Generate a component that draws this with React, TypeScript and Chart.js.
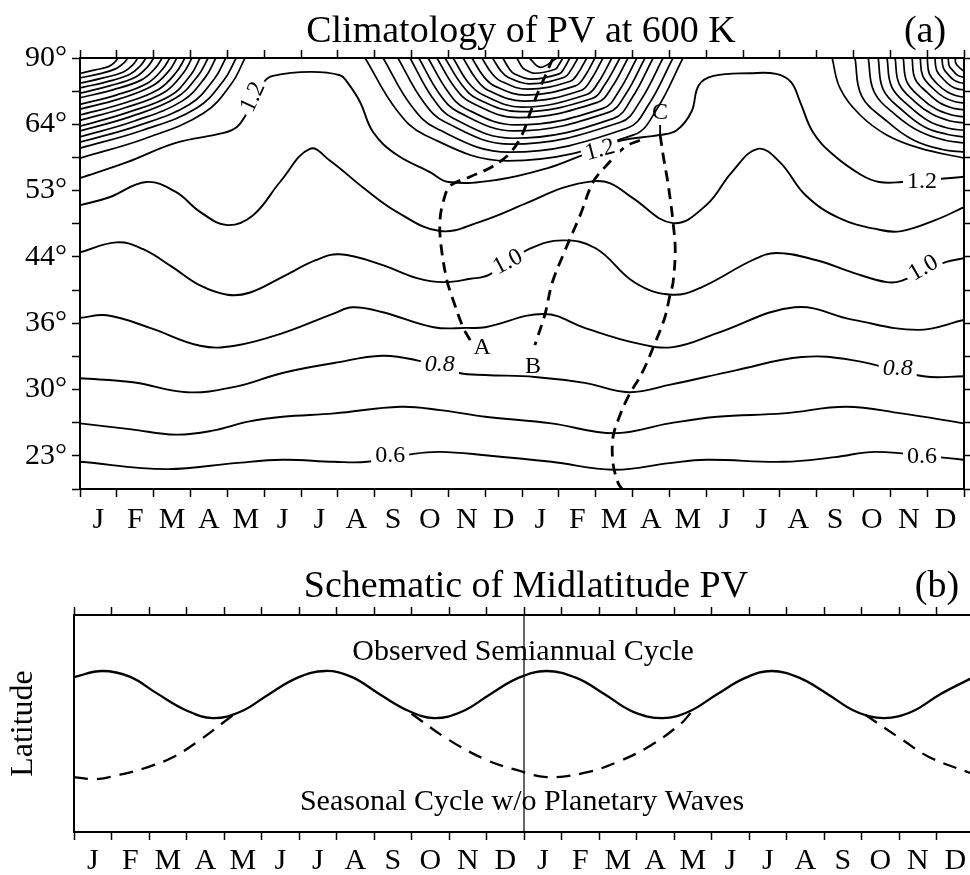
import React, { useEffect, useRef } from 'react';
import { Chart, registerables } from 'chart.js';
Chart.register(...registerables);

const FONT = '"Liberation Serif", "DejaVu Serif", serif';
const MONTHS = ['J', 'F', 'M', 'A', 'M', 'J', 'J', 'A', 'S', 'O', 'N', 'D'];
const LAT_LABELS: Record<number, string> = { 40: '23°', 50: '30°', 60: '36°', 70: '44°', 80: '53°', 90: '64°', 100: '90°' };
const X_TICKS = Array.from({ length: 49 }, (_, i) => i / 2);
const Y_TICKS_A = [0.35, 0.4, 0.45, 0.5, 0.55, 0.6, 0.65, 0.7, 0.75, 0.8, 0.85, 0.9, 0.95, 1.0];

type P = [number, number][];

// ---- Panel (a): contours of PV, x = month (0..24), y = sin(latitude) ----
const PV_06: P = [[0, .391], [2.35, .380], [4.2, .389], [5.5, .394], [6.9, .391], [7.8, .391], [9.05, .403], [9.77, .406], [11.0, .401], [12.8, .391], [14.5, .379], [16.0, .389], [17.0, .394], [19.1, .391], [20.5, .398], [21.6, .406], [23.5, .397], [24, .394]];
const PV_07: P = [[0, .449], [1.4, .440], [2.6, .432], [3.6, .438], [4.6, .452], [5.5, .459], [6.9, .464], [8.7, .474], [9.77, .469], [11.0, .459], [12.8, .449], [14.5, .434], [16.0, .449], [17.3, .459], [19.1, .464], [20.8, .474], [22.3, .464], [24, .449]];
const PV_08: P = [[0, .517], [1.44, .511], [2.9, .496], [4.2, .504], [5.5, .525], [6.9, .540], [8.2, .551], [9.15, .544], [10.3, .525], [11.0, .522], [12.35, .519], [13.7, .510], [14.9, .496], [16.0, .507], [17.8, .529], [19.6, .549], [21.0, .544], [22.9, .520], [24, .520]];
const PV_09: P = [[0, .608], [0.73, .612], [1.9, .593], [3.26, .566], [4.2, .566], [5.5, .585], [6.9, .615], [7.4, .624], [8.2, .617], [9.6, .594], [10.5, .593], [11.0, .594], [12.6, .614], [13.7, .593], [15.1, .570], [16.1, .564], [17.3, .585], [19.4, .624], [21.0, .605], [22.75, .590], [24, .605]];
const PV_10: P = [[0, .707], [1.0, .722], [1.7, .712], [2.5, .685], [3.26, .657], [4.0, .643], [4.6, .646], [5.5, .670], [6.4, .695], [7.06, .704], [8.2, .688], [9.15, .668], [9.86, .662], [10.6, .667], [11.1, .673], [12.2, .712], [13.1, .725], [14.0, .713], [15.07, .661], [16.07, .643], [16.9, .655], [18.25, .695], [18.9, .706], [20.0, .695], [21.0, .676], [21.9, .662], [22.3, .664], [23.5, .692], [24, .698]];
const PV_11: P = [[0, .778], [0.8, .790], [1.8, .813], [2.6, .798], [3.26, .768], [4.0, .748], [4.7, .763], [5.43, .813], [6.24, .863], [6.79, .845], [7.7, .804], [8.6, .768], [9.77, .739], [10.86, .753], [12.2, .783], [13.1, .804], [13.9, .814], [14.4, .811], [15.0, .789], [16.1, .751], [17.0, .778], [17.7, .828], [18.4, .863], [19.0, .843], [19.7, .793], [20.6, .759], [21.7, .741], [22.3, .739], [23.2, .755], [24, .775]];
const PV_12: P = [[0, .819], [1.28, .843], [2.6, .872], [3.9, .887], [4.26, .896], [4.5, .914], [5.0, .964], [5.24, .973], [6.25, .979], [7.06, .974], [7.25, .964], [7.6, .934], [7.96, .888], [8.6, .854], [9.5, .828], [10.0, .813], [11.3, .816], [12.7, .834], [13.66, .854], [14.66, .875], [15.75, .884], [16.2, .891], [16.6, .919], [16.8, .959], [17.2, .973], [18.2, .977], [18.9, .976], [19.3, .964], [19.55, .934], [19.9, .888], [20.45, .854], [21.2, .824], [21.7, .813], [22.3, .813], [24, .821]];

// polar contours (1.3, 1.4, ...) : January fan at the left edge
const POLAR_LEFT: P[] = [
  [[0, .849], [1.79, .879], [3.36, .917], [4.12, .962], [4.48, 1]],
  [[0, .864], [1.70, .891], [3.18, .925], [3.90, .966], [4.24, 1]],
  [[0, .873], [1.58, .898], [2.97, .930], [3.64, .968], [3.96, 1]],
  [[0, .881], [1.48, .905], [2.77, .935], [3.39, .970], [3.69, 1]],
  [[0, .890], [1.39, .912], [2.61, .940], [3.20, .973], [3.48, 1]],
  [[0, .897], [1.30, .918], [2.45, .943], [3.0, .974], [3.26, 1]],
  [[0, .906], [1.22, .925], [2.28, .948], [2.80, .977], [3.04, 1]],
  [[0, .914], [1.14, .931], [2.14, .953], [2.62, .979], [2.85, 1]],
  [[0, .923], [1.05, .938], [1.97, .958], [2.42, .981], [2.63, 1]],
  [[0, .930], [0.98, .944], [1.83, .962], [2.24, .983], [2.44, 1]],
  [[0, .940], [0.89, .952], [1.67, .967], [2.05, .985], [2.23, 1]],
  [[0, .947], [0.80, .958], [1.50, .971], [1.84, .987], [2.0, 1]],
  [[0, .955], [0.72, .964], [1.34, .975], [1.65, .989], [1.79, 1]],
  [[0, .962], [0.63, .970], [1.18, .979], [1.44, .990], [1.57, 1]],
  [[0, .970], [0.52, .976], [0.98, .984], [1.20, .993], [1.3, 1]],
  [[0, .977], [0.41, .982], [0.77, .987], [0.95, .994], [1.03, 1]],
];
// polar contours: winter U in the middle
const POLAR_MID: P[] = [
  [[7.74, 1], [8.59, .922], [9.36, .884], [11.6, .845], [15.03, .884], [15.65, .922], [16.37, 1]],
  [[8.23, 1], [8.98, .929], [9.67, .894], [11.65, .858], [14.85, .894], [15.43, .929], [16.1, 1]],
  [[8.63, 1], [9.31, .935], [9.92, .903], [11.7, .870], [14.67, .903], [15.21, .935], [15.83, 1]],
  [[8.96, 1], [9.57, .940], [10.13, .909], [11.75, .879], [14.49, .909], [14.99, .940], [15.56, 1]],
  [[9.2, 1], [9.77, .945], [10.29, .918], [11.8, .890], [14.35, .918], [14.81, .945], [15.34, 1]],
  [[9.45, 1], [9.98, .950], [10.46, .924], [11.85, .899], [14.2, .924], [14.63, .950], [15.12, 1]],
  [[9.69, 1], [10.18, .955], [10.62, .933], [11.9, .910], [14.05, .933], [14.43, .955], [14.88, 1]],
  [[9.91, 1], [10.36, .960], [10.77, .939], [11.95, .919], [13.9, .939], [14.25, .960], [14.66, 1]],
  [[10.13, 1], [10.54, .963], [10.92, .945], [12.0, .926], [13.76, .945], [14.07, .963], [14.44, 1]],
  [[10.4, 1], [10.76, .968], [11.09, .951], [12.05, .935], [13.6, .951], [13.88, .968], [14.2, 1]],
  [[10.64, 1], [10.96, .972], [11.25, .958], [12.1, .944], [13.45, .958], [13.7, .972], [13.98, 1]],
  [[10.91, 1], [11.18, .977], [11.43, .965], [12.15, .953], [13.31, .965], [13.52, .977], [13.76, 1]],
  [[11.2, 1], [11.42, .981], [11.62, .971], [12.2, .961], [13.15, .971], [13.32, .981], [13.52, 1]],
  [[11.48, 1], [11.65, .984], [11.8, .976], [12.25, .968], [13.01, .976], [13.14, .984], [13.3, 1]],
  [[11.86, 1], [11.97, .989], [12.07, .983], [12.35, .977], [12.9, .983], [12.99, .989], [13.11, 1]],
  [[12.2, 1], [12.5, .986], [12.95, 1]],
];
// polar contours: December fan at the right edge
const POLAR_RIGHT: P[] = [
  [[20.42, 1], [20.63, .955], [21.18, .914], [21.9, .884], [22.8, .864], [24, .849]],
  [[21.04, 1], [21.22, .943], [21.9, .905], [22.64, .876], [23.41, .862], [24, .858]],
  [[21.4, 1], [21.56, .949], [22.15, .914], [22.8, .889], [23.48, .876], [24, .872]],
  [[21.67, 1], [21.81, .952], [22.35, .920], [22.93, .896], [23.53, .885], [24, .881]],
  [[21.91, 1], [22.04, .956], [22.52, .927], [23.04, .905], [23.58, .894], [24, .891]],
  [[22.13, 1], [22.24, .961], [22.67, .934], [23.14, .915], [23.63, .905], [24, .902]],
  [[22.35, 1], [22.45, .964], [22.83, .940], [23.24, .923], [23.67, .914], [24, .911]],
  [[22.59, 1], [22.67, .969], [23.0, .948], [23.35, .932], [23.72, .924], [24, .922]],
  [[22.81, 1], [22.88, .973], [23.16, .954], [23.45, .941], [23.76, .934], [24, .932]],
  [[23.0, 1], [23.06, .976], [23.29, .960], [23.54, .949], [23.8, .943], [24, .941]],
  [[23.21, 1], [23.26, .981], [23.44, .968], [23.64, .958], [23.84, .953], [24, .952]],
  [[23.4, 1], [23.44, .985], [23.57, .975], [23.72, .967], [23.88, .963], [24, .962]],
  [[23.57, 1], [23.6, .988], [23.7, .981], [23.8, .975], [23.91, .972], [24, .971]],
  [[23.76, 1], [23.78, .992], [23.87, .986], [24, .980]],
];

// dashed trajectories A, B, C
const PATH_A: P = [[12.84, 1.0], [12.68, .979], [12.44, .949], [12.22, .917], [12.0, .884], [11.68, .857], [11.19, .836], [10.59, .821], [10.05, .807], [9.86, .783], [9.77, .753], [9.8, .718], [9.96, .665], [10.13, .635], [10.4, .594], [10.64, .570]];
const PATH_B: P = [[15.2, .876], [14.8, .866], [14.31, .839], [13.93, .813], [13.58, .763], [13.17, .710], [12.82, .661], [12.63, .615], [12.35, .567]];
const PATH_C: P = [[15.75, .884], [15.83, .854], [15.94, .819], [16.02, .789], [16.1, .753], [16.16, .710], [16.1, .661], [16.02, .643], [15.88, .609], [15.61, .570], [15.26, .525], [14.88, .489], [14.61, .454], [14.47, .428], [14.47, .389], [14.61, .359], [14.72, .35]];
const C_TICK: P = [[15.75, .899], [15.75, .884]];

// ---- Panel (b): schematic ----
const SEMIANNUAL: P = [[0, 7.14], [0.75, 7.42], [1.5, 7.15], [2.2, 6.4], [3.0, 5.6], [3.7, 5.25], [4.45, 5.55], [5.2, 6.35], [5.95, 7.1], [6.7, 7.42], [7.4, 7.15], [8.15, 6.35], [8.9, 5.6], [9.6, 5.25], [10.35, 5.55], [11.1, 6.35], [11.85, 7.1], [12.6, 7.42], [13.4, 7.1], [14.15, 6.35], [14.9, 5.55], [15.7, 5.25], [16.4, 5.55], [17.15, 6.35], [17.9, 7.1], [18.6, 7.42], [19.35, 7.1], [20.1, 6.35], [20.85, 5.55], [21.6, 5.25], [22.35, 5.55], [23.1, 6.35], [24, 7.15]];
const SEASONAL_1: P = [[0, 2.53], [0.6, 2.44], [1.2, 2.63], [1.9, 2.95], [2.65, 3.46], [3.36, 4.24], [4.07, 5.16], [4.35, 5.5]];
const SEASONAL_2: P = [[9.0, 5.45], [10.0, 4.24], [11.0, 3.32], [11.8, 2.86], [12.6, 2.53], [13.6, 2.72], [14.5, 3.23], [15.4, 4.01], [16.2, 5.02], [16.45, 5.5]];
const SEASONAL_3: P = [[21.1, 5.4], [22.1, 4.24], [22.8, 3.46], [23.9, 2.72], [24, 2.68]];
const JAN_LINE: P = [[12, 0], [12, 10]];

const xy = (p: P) => p.map(([x, y]) => ({ x, y }));

type Note = { text: string; x: number; y: number; data?: boolean; rot?: number; size: number; italic?: boolean; bg?: boolean; baseline?: CanvasTextBaseline };

function notesPlugin(id: string, items: Note[]) {
  return {
    id,
    afterDraw(chart: any) {
      const ctx: CanvasRenderingContext2D = chart.ctx;
      for (const n of items) {
        let px = n.x, py = n.y;
        if (n.data) { px = chart.scales.x.getPixelForValue(n.x); py = chart.scales.y.getPixelForValue(n.y); }
        ctx.save();
        ctx.translate(px, py);
        if (n.rot) ctx.rotate((n.rot * Math.PI) / 180);
        ctx.font = `${n.italic ? 'italic ' : ''}${n.size}px ${FONT}`;
        ctx.textAlign = 'center';
        ctx.textBaseline = n.baseline || 'middle';
        if (n.bg) {
          const w = ctx.measureText(n.text).width;
          ctx.fillStyle = '#fff';
          ctx.fillRect(-w / 2 - 4, -n.size * 0.42, w + 8, n.size * 0.84);
        }
        ctx.fillStyle = '#000';
        ctx.fillText(n.text, 0, 0);
        ctx.restore();
      }
    },
  };
}

const monthLabel = (v: number) => {
  const r = Math.round(v * 2);
  return r % 2 === 1 ? MONTHS[((r - 1) / 2) % 12] : '';
};
const intTickColor = (c: any) => {
  const v = c && c.tick ? c.tick.value : 0;
  return Math.abs(v - Math.round(v)) < 1e-6 ? '#000' : 'rgba(0,0,0,0)';
};

function xAxis(position: 'top' | 'bottom', h: number, labels: boolean, pad: number) {
  return {
    type: 'linear', axis: 'x', position, min: 0, max: 24,
    afterBuildTicks: (s: any) => { s.ticks = X_TICKS.map((v) => ({ value: v })); },
    afterFit: (s: any) => { s.height = h; },
    ticks: {
      autoSkip: false, maxRotation: 0, minRotation: 0, color: '#000', padding: pad,
      font: { family: FONT, size: 30 },
      callback: (v: any) => (labels ? monthLabel(Number(v)) : ''),
    },
    grid: { drawOnChartArea: false, drawTicks: true, tickLength: 8, tickWidth: 1.5, tickColor: intTickColor },
    border: { display: true, color: '#000', width: 2 },
  };
}

function yAxisA(position: 'left' | 'right', w: number, labels: boolean) {
  return {
    type: 'linear', axis: 'y', position, min: 0.35, max: 1.0,
    afterBuildTicks: (s: any) => { s.ticks = Y_TICKS_A.map((v) => ({ value: v })); },
    afterFit: (s: any) => { s.width = w; },
    ticks: {
      autoSkip: false, color: '#000', padding: 5,
      font: { family: FONT, size: 30 },
      callback: (v: any) => (labels ? LAT_LABELS[Math.round(Number(v) * 100)] || '' : ''),
    },
    grid: { drawOnChartArea: false, drawTicks: true, tickLength: 8, tickWidth: 1.5, color: '#000', tickColor: '#000' },
    border: { display: true, color: '#000', width: 2 },
  };
}

const solid = (p: P, w = 1.9) => ({ data: xy(p), borderColor: '#000', borderWidth: w, pointRadius: 0, fill: false, tension: 0.4, cubicInterpolationMode: 'default' as const, xAxisID: 'x', yAxisID: 'y' });
const dashed = (p: P, w: number, dash: number[], tension: number) => ({ data: xy(p), borderColor: '#000', borderWidth: w, borderDash: dash, pointRadius: 0, fill: false, tension, cubicInterpolationMode: 'default' as const, xAxisID: 'x', yAxisID: 'y' });

export default function App() {
  const refA = useRef<HTMLCanvasElement>(null);
  const refB = useRef<HTMLCanvasElement>(null);

  useEffect(() => {
    const notesA: Note[] = [
      { text: 'Climatology of PV at 600 K', x: 521, y: 42, size: 38, baseline: 'alphabetic' },
      { text: '(a)', x: 925, y: 42, size: 38, baseline: 'alphabetic' },
      { text: '1.2', x: 4.7, y: .941, rot: -65, size: 24, bg: true, data: true },
      { text: '1.2', x: 14.12, y: .861, rot: -15, size: 24, bg: true, data: true },
      { text: '1.2', x: 22.86, y: .813, size: 24, bg: true, data: true },
      { text: '1.0', x: 11.62, y: .692, rot: -28, size: 24, bg: true, data: true },
      { text: '1.0', x: 22.9, y: .683, rot: -30, size: 24, bg: true, data: true },
      { text: '0.8', x: 9.77, y: .537, size: 24, italic: true, bg: true, data: true },
      { text: '0.8', x: 22.2, y: .532, size: 24, italic: true, bg: true, data: true },
      { text: '0.6', x: 8.42, y: .400, size: 24, bg: true, data: true },
      { text: '0.6', x: 22.86, y: .398, size: 24, bg: true, data: true },
      { text: 'A', x: 10.92, y: .563, size: 24, data: true },
      { text: 'B', x: 12.3, y: .535, size: 24, data: true },
      { text: 'C', x: 15.75, y: .918, size: 24, data: true },
    ];
    const dsA: any[] = [
      solid(PV_06), solid(PV_07), solid(PV_08), solid(PV_09), solid(PV_10), solid(PV_11), solid(PV_12),
      ...POLAR_LEFT.map((p) => solid(p, 1.7)), ...POLAR_MID.map((p) => solid(p, 1.7)), ...POLAR_RIGHT.map((p) => solid(p, 1.7)),
      dashed(C_TICK, 1.9, [], 0),
      dashed(PATH_A, 2.8, [11, 7], 0.35),
      dashed(PATH_B, 2.8, [11, 7], 0.35),
      dashed(PATH_C, 2.8, [11, 7], 0.35),
    ];
    const chartA = new Chart(refA.current!, {
      type: 'line',
      data: { datasets: dsA },
      options: {
        responsive: false, maintainAspectRatio: false, animation: false, events: [],
        layout: { padding: 0 },
        plugins: { legend: { display: false }, tooltip: { enabled: false }, title: { display: false } },
        elements: { point: { radius: 0 } },
        scales: {
          x: xAxis('bottom', 51, true, 5),
          x2: xAxis('top', 58, false, 0),
          y: yAxisA('left', 80, true),
          y2: yAxisA('right', 6, false),
        } as any,
      },
      plugins: [notesPlugin('notesA', notesA)],
    } as any);

    const notesB: Note[] = [
      { text: 'Schematic of Midlatitude PV', x: 526, y: 57, size: 38, baseline: 'alphabetic' },
      { text: '(b)', x: 937, y: 57, size: 38, baseline: 'alphabetic' },
      { text: 'Observed Semiannual Cycle', x: 523, y: 120, size: 30, baseline: 'alphabetic' },
      { text: 'Seasonal Cycle w/o Planetary Waves', x: 522, y: 270, size: 30, baseline: 'alphabetic' },
    ];
    const dsB: any[] = [
      solid(SEMIANNUAL, 2.3),
      dashed(SEASONAL_1, 2.3, [14, 9], 0.4),
      dashed(SEASONAL_2, 2.3, [14, 9], 0.4),
      dashed(SEASONAL_3, 2.3, [14, 9], 0.4),
      dashed(JAN_LINE, 1.2, [], 0),
    ];
    const chartB = new Chart(refB.current!, {
      type: 'line',
      data: { datasets: dsB },
      options: {
        responsive: false, maintainAspectRatio: false, animation: false, events: [],
        layout: { padding: { right: 11 } },
        plugins: { legend: { display: false }, tooltip: { enabled: false }, title: { display: false } },
        elements: { point: { radius: 0 } },
        scales: {
          x: xAxis('bottom', 43, true, 3),
          x2: xAxis('top', 75, false, 0),
          y: {
            type: 'linear', position: 'left', min: 0, max: 10,
            afterFit: (s: any) => { s.width = 74; },
            ticks: { display: false },
            grid: { display: false },
            border: { display: true, color: '#000', width: 2 },
            title: { display: true, text: 'Latitude', color: '#000', font: { family: FONT, size: 32 }, padding: { top: 4, bottom: 4 } },
          },
        } as any,
      },
      plugins: [notesPlugin('notesB', notesB)],
    } as any);

    return () => { chartA.destroy(); chartB.destroy(); };
  }, []);

  return (
    <div style={{ position: 'absolute', left: 0, top: 0, width: 970, height: 875, overflow: 'hidden', background: '#fff' }}>
      <canvas ref={refA} width={970} height={540} style={{ position: 'absolute', left: 0, top: 0, width: 970, height: 540 }} />
      <canvas ref={refB} width={985} height={335} style={{ position: 'absolute', left: 0, top: 540, width: 985, height: 335 }} />
    </div>
  );
}
